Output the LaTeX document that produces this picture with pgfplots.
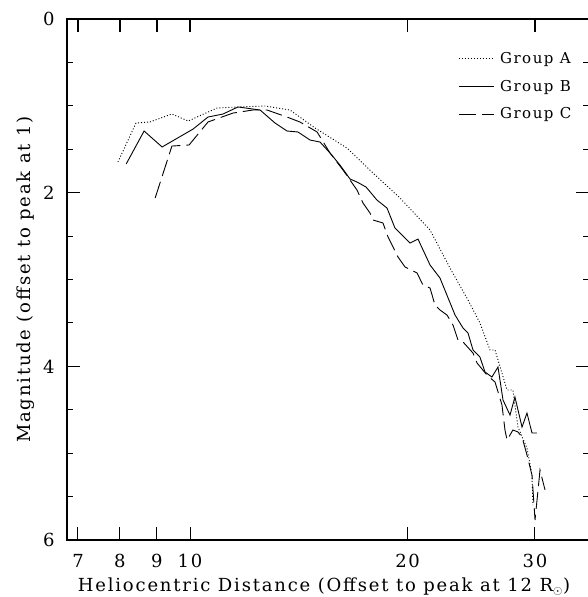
\documentclass[border=0pt]{standalone}
\usepackage{fontspec}
\setmainfont[LetterSpace=10]{DejaVu Serif}
\usepackage{pgfplots}
\pgfplotsset{compat=1.18}

\begin{document}
\begin{tikzpicture}
\begin{axis}[
    scale only axis,
    width=522pt, height=521pt,
    xmode=log,
    xmin=6.759, xmax=35.64,
    ymin=0, ymax=6,
    y dir=reverse,
    xtick={7,8,9,10,20,30},
    xticklabels={7,8,9,10,20,30},
    minor xtick={},
    ytick={0,2,4,6},
    minor y tick num=3,
    tick align=inside,
    xtick pos=both, ytick pos=both,
    major tick length=13pt,
    minor tick length=6pt,
    axis line style={line width=1.3pt},
    every tick/.style={black, line width=1pt},
    /pgf/number format/assume math mode=true,
    tick label style={font=\fontsize{18}{20}\selectfont},
    xticklabel style={yshift=-11pt},
    yticklabel style={xshift=-9pt},
    label style={font=\fontsize{18}{20}\selectfont},
    xlabel={Heliocentric Distance (Offset to peak at 12 R$_\odot$)},
    ylabel={Magnitude (offset to peak at 1)},
    xlabel style={yshift=-3pt, xshift=-4pt},
    ylabel style={yshift=2pt},
    legend style={draw=none, fill=none, at={(0.749,0.94)}, anchor=north west,
        font=\fontsize{15}{17}\selectfont, inner sep=0pt, row sep=11pt,
        nodes={inner xsep=6pt}},
    legend image code/.code={\draw[#1] (0pt,0pt) -- (35pt,0pt);},
    legend cell align=left,
]

% Group A (dotted)
\addplot[black, line width=0.9pt, dash pattern=on 1pt off 2pt] coordinates {
(7.95,1.647) (8.42,1.198) (8.80,1.186) (9.44,1.094) (9.94,1.175)
(10.90,1.025) (11.65,1.013) (12.70,1.002) (13.75,1.048) (14.89,1.255)
(16.49,1.486) (17.85,1.762) (19.52,2.061) (21.48,2.430) (22.89,2.868)
(24.24,3.236) (25.18,3.501) (26.00,3.812) (26.42,3.812) (27.45,4.273)
(27.97,4.273) (28.42,4.699) (29.25,4.941) (29.72,5.252) (29.81,5.597)
};
\addlegendentry{Group A}

% Group B (solid)
\addplot[black, line width=0.9pt] coordinates {
(8.16,1.670) (8.64,1.290) (9.15,1.474) (10.10,1.267) (10.59,1.129)
(11.11,1.094) (11.65,1.013) (12.50,1.048) (13.11,1.198) (13.62,1.290)
(14.10,1.301) (14.66,1.394) (15.13,1.417) (15.62,1.543) (16.12,1.681)
(16.65,1.843) (17.02,1.877) (17.52,1.935) (18.14,2.085) (18.73,2.177)
(19.21,2.407) (20.15,2.580) (20.67,2.534) (21.48,2.833) (22.17,2.983)
(23.26,3.409) (23.86,3.559) (24.24,3.616) (24.63,3.812) (25.18,3.893)
(25.59,4.065) (26.16,4.123) (26.67,4.008) (27.10,4.388) (27.71,4.561)
(28.15,4.353) (28.79,4.699) (29.25,4.538) (29.72,4.768) (30.19,4.768)
};
\addlegendentry{Group B}

% Group C (dashed)
\addplot[black, line width=0.9pt, dash pattern=on 17pt off 6pt] coordinates {
(8.95,2.061) (9.44,1.463) (9.97,1.451) (10.59,1.186) (11.47,1.083)
(12.22,1.048) (12.78,1.048) (13.62,1.129) (14.19,1.186) (14.99,1.301)
(15.62,1.543) (16.28,1.739) (17.02,1.969) (17.35,2.119) (17.74,2.234)
(17.91,2.315) (18.49,2.349) (18.79,2.511) (19.40,2.741) (19.84,2.856)
(20.61,2.925) (21.00,3.064) (21.48,3.098) (21.82,3.294) (22.17,3.351)
(22.67,3.409) (23.11,3.524) (23.48,3.697) (23.86,3.720) (24.63,3.847)
(24.95,3.962) (25.75,4.100) (26.42,4.181) (27.01,4.445) (27.27,4.733)
(27.45,4.849) (27.97,4.733) (28.42,4.756) (28.79,4.814) (29.25,5.021)
(29.72,5.252) (30.01,5.770) (30.49,5.194) (30.98,5.424)
};
\addlegendentry{Group C}
\end{axis}

% top axis ticks
\begin{axis}[
    scale only axis,
    width=522pt, height=521pt,
    xmode=log,
    xmin=6.759, xmax=35.64,
    ymin=0, ymax=6,
    axis x line*=top,
    axis y line=none,
    xtick={7,8,9,10,20,30},
    xticklabels={},
    minor xtick={},
    xtick align=inside,
    major tick length=13pt,
    axis line style={line width=1.3pt, -},
    xtick style={draw=black, line width=1.5pt},
]
\end{axis}
\pgfresetboundingbox
\path[use as bounding box] (-67pt,-57pt) rectangle (520pt,540pt);
\end{tikzpicture}
\end{document}
